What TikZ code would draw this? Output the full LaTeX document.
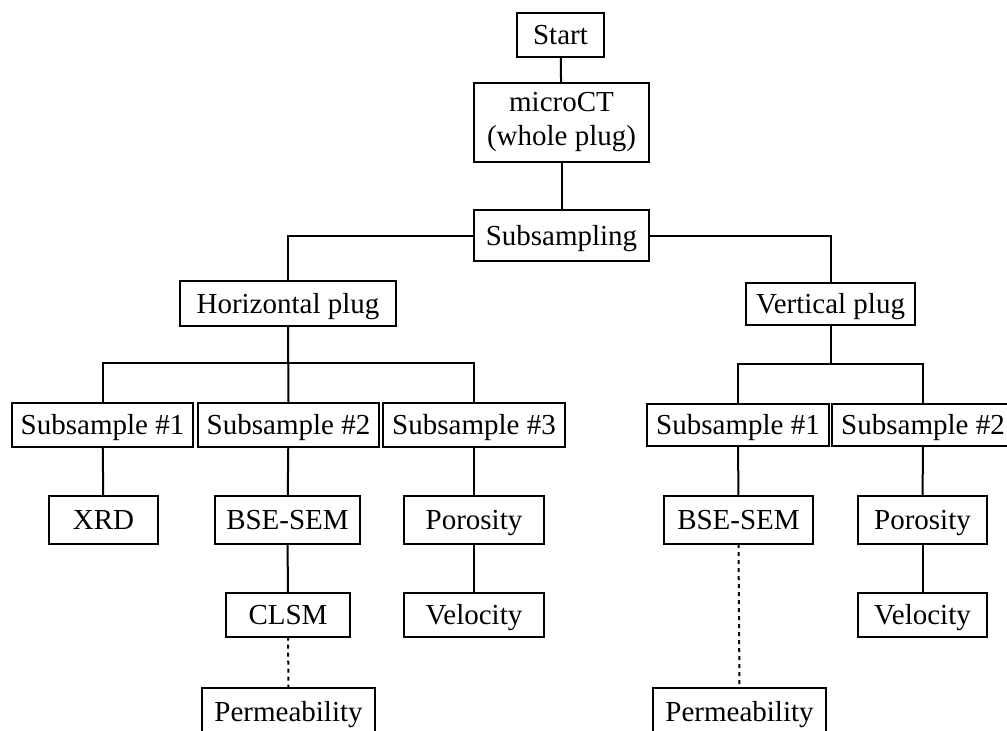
\documentclass[tikz,border=0pt]{standalone}
\usepackage{fontspec}
\setmainfont{Liberation Serif}
\usepackage{tikz}
\usetikzlibrary{positioning}

\begin{document}
\begin{tikzpicture}[x=0.5pt,y=-0.5pt]
  \tikzset{BoxStyle/.style = {
    shape         = rectangle,
    draw          = black,
    fill          = white,
    line width    = 1pt,
    text          = black,
    align         = center,
    inner sep     = 0pt,
    outer sep     = 0pt,
    font          = \fontsize{14.5}{17}\selectfont
    }
  }
  \tikzset{LineBoxStyle/.style = {
    BoxStyle,
    text height   = 11pt,
    text depth    = 1.5pt
    }
  }
  \tikzset{EdgeStyle/.style = {
    draw          = black,
    line width    = 1pt
    }
  }
  \tikzset{DotEdgeStyle/.style = {
    EdgeStyle,
    dash pattern  = on 2pt off 2pt
    }
  }

  \clip (0,0) rectangle (1007,730);
  \fill[white] (0,0) rectangle (1007,730);

  % top of the tree
	\node[LineBoxStyle, minimum width=43.5pt, minimum height=22pt](start) at (560.5, 35) {Start};
	\node[BoxStyle, minimum width=87.5pt, minimum height=39.5pt](micro) at (561.5, 122.5) {microCT\\(whole plug)};
	\node[LineBoxStyle, minimum width=87.5pt, minimum height=25.5pt](sub) at (561.5, 235.5) {Subsampling};
	\node[LineBoxStyle, minimum width=108pt, minimum height=22.5pt](hplug) at (288, 303.5) {Horizontal plug};
	\node[LineBoxStyle, minimum width=84.5pt, minimum height=21pt](vplug) at (830.5, 304) {Vertical plug};

  % horizontal plug branch
	\node[LineBoxStyle, minimum width=90.5pt, minimum height=22pt](hs1) at (102.5, 425) {Subsample \#1};
	\node[LineBoxStyle, minimum width=90.5pt, minimum height=22pt](hs2) at (288.5, 425) {Subsample \#2};
	\node[LineBoxStyle, minimum width=91pt, minimum height=22pt](hs3) at (474, 425) {Subsample \#3};
	\node[LineBoxStyle, minimum width=54.5pt, minimum height=24pt](xrd) at (103.5, 520) {XRD};
	\node[LineBoxStyle, minimum width=72.5pt, minimum height=24pt](hbse) at (287.5, 520) {BSE-SEM};
	\node[LineBoxStyle, minimum width=70pt, minimum height=24pt](hpor) at (474, 520) {Porosity};
	\node[LineBoxStyle, minimum width=62pt, minimum height=22pt](clsm) at (288, 614.5) {CLSM};
	\node[LineBoxStyle, minimum width=70pt, minimum height=22pt](hvel) at (474, 614.5) {Velocity};
	\node[LineBoxStyle, minimum width=86.5pt, minimum height=24pt](hperm) at (288.5, 712) {Permeability};

  % vertical plug branch
	\node[LineBoxStyle, minimum width=91pt, minimum height=21pt](vs1) at (738, 425) {Subsample \#1};
	\node[LineBoxStyle, minimum width=91pt, minimum height=21pt](vs2) at (923, 425) {Subsample \#2};
	\node[LineBoxStyle, minimum width=74.5pt, minimum height=24pt](vbse) at (738.5, 520) {BSE-SEM};
	\node[LineBoxStyle, minimum width=64.5pt, minimum height=24pt](vpor) at (922.5, 520) {Porosity};
	\node[LineBoxStyle, minimum width=64.5pt, minimum height=22pt](vvel) at (922.5, 614.5) {Velocity};
	\node[LineBoxStyle, minimum width=86.5pt, minimum height=24pt](vperm) at (739.5, 712) {Permeability};

  \coordinate (hbus) at (288.5, 363);
  \coordinate (vbus) at (830.5, 364);

	\draw[EdgeStyle](start) -- (micro);
	\draw[EdgeStyle](micro) -- (sub);
	\draw[EdgeStyle](sub.west) -| (hplug.north);
	\draw[EdgeStyle](sub.east) -| (vplug.north);

	\draw[EdgeStyle](hplug.south) -- (hs2.north);
	\draw[EdgeStyle](hs1.north) |- (hbus) -| (hs3.north);
	\draw[EdgeStyle](hs1) -- (xrd);
	\draw[EdgeStyle](hs2) -- (hbse);
	\draw[EdgeStyle](hbse) -- (clsm);
	\draw[DotEdgeStyle](clsm.south) -- (hperm.north);
	\draw[EdgeStyle](hs3) -- (hpor);
	\draw[EdgeStyle](hpor) -- (hvel);

	\draw[EdgeStyle](vplug.south) -- (vbus);
	\draw[EdgeStyle](vs1.north) |- (vbus) -| (vs2.north);
	\draw[EdgeStyle](vs1) -- (vbse);
	\draw[DotEdgeStyle](vbse.south) -- (vperm.north);
	\draw[EdgeStyle](vs2) -- (vpor);
	\draw[EdgeStyle](vpor) -- (vvel);

\end{tikzpicture}
\end{document}
